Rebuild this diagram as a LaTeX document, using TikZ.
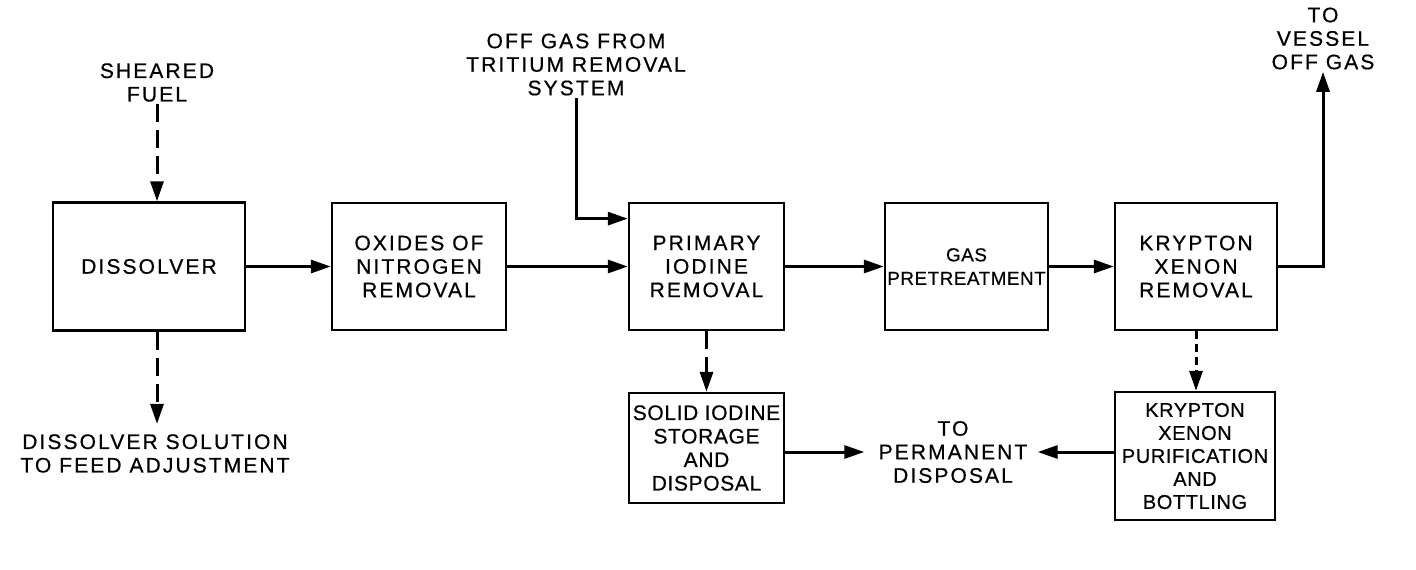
\documentclass[tikz,border=0pt]{standalone}
\usepackage{fontspec}
\setmainfont{Liberation Sans}
\newfontfamily\lettr[LetterSpace=10,FakeBold=0.6]{Liberation Sans}
\newfontfamily\lettrtight[LetterSpace=3,FakeBold=0.6]{Liberation Sans}
\usetikzlibrary{arrows.meta,positioning,calc}
\tikzset{
  txt/.style={align=center,inner sep=1pt,font=\lettr\fontsize{10.5}{11.75}\selectfont},
  blk/.style={txt,draw,rectangle,line width=1.2pt,minimum height=63.5pt},
  tightblk/.style={blk,font=\lettrtight\fontsize{10.5}{11.75}\selectfont},
  arr/.style={-{Triangle[length=10pt,width=6.5pt]},line width=1.5pt},
  darr/.style={arr,dash pattern=on 9pt off 4pt},
  sarr/.style={arr,dash pattern=on 4pt off 2.5pt}
}

\begin{document}
\begin{tikzpicture}[x=0.5pt,y=-0.5pt]
  \useasboundingbox (0,0) rectangle (1416,569);
  % Main process row
  \node[blk,minimum width=96pt,minimum height=64pt] (diss) at (149,266.5) {DISSOLVER};
  \node[blk,minimum width=87pt] (nox) at (419,266.5) {OXIDES OF\\NITROGEN\\REMOVAL};
  \node[blk,minimum width=77.5pt] (iod) at (706.5,266.5) {PRIMARY\\IODINE\\REMOVAL};
  \node[tightblk,minimum width=81.5pt,inner sep=0pt,font=\lettrtight\fontsize{9.4}{11.75}\selectfont] (pre) at (966.5,266.5) {GAS\\PRETREATMENT};
  \node[blk,minimum width=81pt] (krx) at (1196,266.5) {KRYPTON\\XENON\\REMOVAL};

  % Lower boxes
  \node[tightblk,minimum width=77.5pt,minimum height=55pt] (sto) at (706.5,448) {SOLID IODINE\\STORAGE\\AND\\DISPOSAL};
  \node[tightblk,minimum width=80pt,minimum height=64pt,font=\lettrtight\fontsize{10}{11.5}\selectfont] (pur) at (1195,456) {KRYPTON\\XENON\\PURIFICATION\\AND\\BOTTLING};

  % Feeds and outlets
  \node[txt] (fuel) at (157,82.5) {SHEARED\\FUEL};
  \node[txt] (soln) at (155,453.5) {DISSOLVER SOLUTION\\TO FEED ADJUSTMENT};
  \node[txt] (trit) at (576,64.5) {OFF GAS FROM\\TRITIUM REMOVAL\\SYSTEM};
  \node[txt] (vent) at (1323,38.5) {TO\\VESSEL\\OFF GAS};
  \node[txt] (perm) at (953,452) {TO\\PERMANENT\\DISPOSAL};

  % Connections
  \draw[darr] (fuel.south) -- (fuel.south |- diss.north);
  \draw[darr,shorten >=4pt] (diss.south -| fuel.south) -- (soln.north -| fuel.south);
  \draw[arr] (diss) -- (nox);
  \draw[arr] (nox) -- (iod);
  \draw[arr] (iod) -- (pre);
  \draw[arr] (pre) -- (krx);
  \draw[arr] (trit.south) |- ($(iod.north west)!0.13!(iod.south west)$);
  \draw[arr] (krx.east) -| (vent.south);
  \draw[darr] (iod) -- (sto);
  \draw[sarr] (krx.south) -- (krx.south |- pur.north);
  \draw[arr,shorten >=6pt] (sto.east |- perm) -- (perm.west);
  \draw[arr,shorten >=4pt] (pur.west |- perm) -- (perm.east);
\end{tikzpicture}
\end{document}
